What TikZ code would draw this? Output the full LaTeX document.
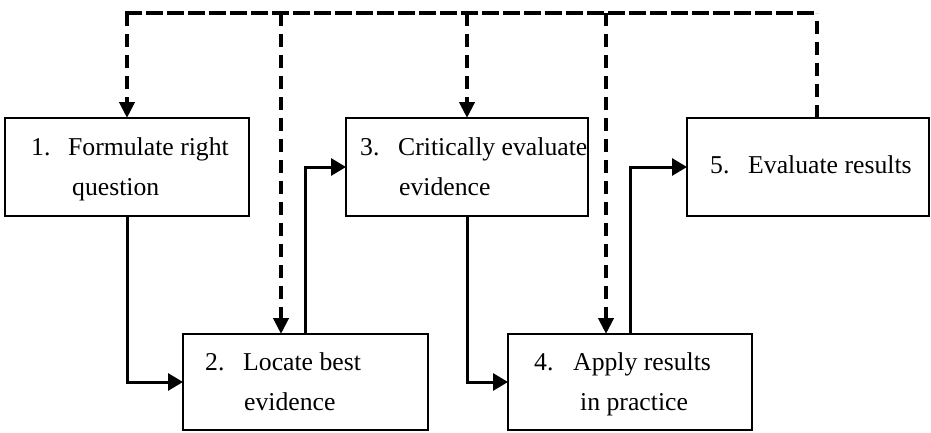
\documentclass[tikz,border=0pt]{standalone}
\usepackage{fontspec}
\setmainfont{Liberation Serif}
\usetikzlibrary{arrows.meta}
\begin{document}
\begin{tikzpicture}[x=1pt,y=-1pt,
  stepbox/.style={draw, line width=2.5pt, inner sep=0pt, outer sep=0pt, minimum height=98pt},
  lbl/.style={anchor=base west, inner sep=0pt, font=\fontsize{25.7}{30}\selectfont},
  conn/.style={line width=3pt, -{Triangle[length=15pt,width=17pt]}},
  fb/.style={line width=4pt, dash pattern=on 13pt off 8pt},
  fbarrow/.style={fb, -{Triangle[length=16pt,width=15pt]}}]
\useasboundingbox (0,0) rectangle (931,432);
% boxes
\node[stepbox, minimum width=244pt] (b1) at (127,167) {};
\node[stepbox, minimum width=245pt, minimum height=96pt] (b2) at (305.5,382) {};
\node[stepbox, minimum width=242pt] (b3) at (467,167) {};
\node[stepbox, minimum width=244pt, minimum height=96pt] (b4) at (630,382) {};
\node[stepbox, minimum width=242pt] (b5) at (808,167) {};
% texts
\node[lbl] (n1) at (31,155) {1.};
\node[lbl] (l1a) at (68,155) {Formulate right};
\node[lbl] (l1b) at (72,195) {question};
\node[lbl] (n2) at (205,370) {2.};
\node[lbl] (l2a) at (243,370) {Locate best};
\node[lbl] (l2b) at (244,410) {evidence};
\node[lbl] (n3) at (360,155) {3.};
\node[lbl] (l3a) at (398,155) {Critically evaluate};
\node[lbl] (l3b) at (399,195) {evidence};
\node[lbl] (n4) at (534,370) {4.};
\node[lbl] (l4a) at (573,370) {Apply results};
\node[lbl] (l4b) at (580,410) {in practice};
\node[lbl] (n5) at (710,173) {5.};
\node[lbl] (l5a) at (748,173) {Evaluate results};
% solid connectors
\draw[conn] (b1.south) |- (b2.west);
\draw[conn] (b2.north) |- (b3.west);
\draw[conn] (b3.south) |- (b4.west);
\draw[conn] (b4.north) |- (b5.west);
% feedback dashed lines
\coordinate (t1) at (127,13);
\coordinate (t2) at (281,13);
\coordinate (t3) at (467,13);
\coordinate (t4) at (606,13);
\coordinate (t5) at (817,13);
\draw[fb, line cap=rect] (t1) -- (t5);
\draw[fb] (t5 |- b5.north) -- (t5);
\draw[fbarrow] (t1) -- (t1 |- b1.north);
\draw[fbarrow] (t2) -- (t2 |- b2.north);
\draw[fbarrow] (t3) -- (t3 |- b3.north);
\draw[fbarrow] (t4) -- (t4 |- b4.north);
\end{tikzpicture}
\end{document}
